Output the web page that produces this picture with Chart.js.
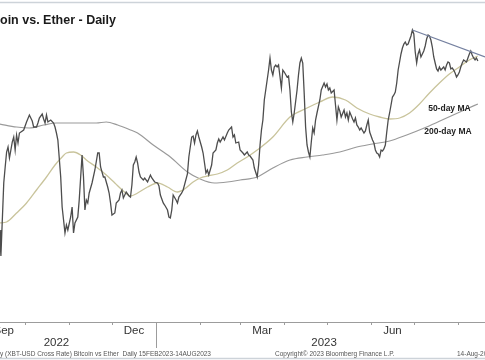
<!DOCTYPE html>
<html>
<head>
<meta charset="utf-8">
<script src="https://cdn.jsdelivr.net/npm/chart.js@4/dist/chart.umd.min.js"></script>
<style>
  html, body { margin: 0; padding: 0; background: #fff; }
  canvas { display: block; }
</style>
</head>
<body>
<canvas id="chart" width="485" height="360"></canvas>
<script>
"use strict";

// x values are days since 1 Sep 2022, y values are the XBT/ETH ratio

const priceDays = [
  12, 13, 15, 16, 17, 18, 19, 21, 22, 23, 24, 25, 26, 29, 31, 33, 35, 36, 38, 39,
  40, 42, 43, 44, 45, 46, 48, 50, 51, 52, 53, 55, 56, 57, 58, 59, 60, 62, 63, 64,
  65, 67, 68, 70, 71, 72, 73, 74, 75, 77, 79, 81, 82, 83, 85, 86, 88, 89, 90, 91,
  93, 94, 96, 97, 98, 99, 101, 103, 104, 105, 106, 107, 108, 109, 110, 111, 113, 114, 116, 118,
  119, 121, 123, 124, 125, 126, 127, 128, 130, 131, 132, 133, 134, 136, 137, 138, 140, 141, 144, 145,
  147, 148, 149, 150, 151, 152, 154, 155, 156, 157, 158, 159, 161, 162, 164, 165, 166, 167, 169, 170,
  172, 173, 175, 176, 177, 178, 180, 181, 183, 184, 186, 187, 188, 190, 191, 193, 194, 195, 196, 197,
  198, 199, 200, 201, 202, 203, 204, 205, 206, 207, 208, 210, 211, 212, 214, 215, 216, 217, 218, 219,
  221, 222, 223, 224, 225, 226, 227, 228, 229, 230, 231, 232, 233, 234, 235, 237, 238, 240, 241, 242,
  243, 244, 245, 247, 248, 249, 250, 251, 252, 254, 255, 256, 257, 258, 260, 261, 262, 263, 264, 265,
  266, 268, 269, 270, 271, 272, 273, 274, 275, 276, 277, 278, 279, 280, 281, 282, 283, 284, 285, 286,
  287, 288, 289, 290, 291, 292, 293, 294, 295, 296, 297, 298, 299, 300, 301, 302, 303, 304, 305, 306,
  307, 308, 310, 311, 312, 313, 314, 315, 316, 317, 318, 319, 320, 321, 322, 324, 325, 326, 327, 328,
  329, 330, 331, 332, 333, 334, 335, 336, 337, 338, 339, 340, 341, 342, 343, 344, 345, 346, 347, 348
];
const priceValues = [
  13.40, 12.88, 14.34, 14.66, 14.96, 15.06, 14.84, 15.16, 15.26, 15.00, 15.30, 15.14, 15.34, 15.40, 15.56, 15.70, 15.58, 15.46, 15.46, 15.54,
  15.64, 15.72, 15.62, 15.54, 15.70, 15.56, 15.60, 15.54, 15.46, 15.34, 15.20, 14.46, 13.86, 13.60, 13.34, 13.50, 13.40, 13.66, 13.86, 13.34,
  13.54, 13.66, 14.00, 14.90, 14.46, 13.80, 14.00, 13.94, 14.14, 14.34, 14.60, 14.94, 14.94, 14.66, 14.46, 14.46, 14.26, 14.14, 13.94, 13.70,
  13.74, 13.94, 14.00, 14.14, 14.20, 14.04, 14.16, 14.08, 14.06, 14.30, 14.70, 14.76, 14.86, 14.74, 14.56, 14.46, 14.40, 14.44, 14.36, 14.50,
  14.44, 14.36, 14.34, 14.28, 14.10, 14.02, 13.94, 13.90, 13.80, 13.66, 13.64, 13.80, 14.10, 14.00, 13.94, 14.06, 14.14, 14.20, 14.52, 14.86,
  15.26, 15.28, 15.14, 15.30, 15.38, 15.26, 15.06, 14.94, 14.74, 14.54, 14.60, 14.50, 14.70, 14.94, 15.00, 15.14, 15.22, 15.16, 15.26, 15.20,
  15.34, 15.40, 15.46, 15.26, 15.30, 15.14, 15.16, 15.00, 14.94, 14.90, 14.96, 14.90, 14.88, 14.80, 14.64, 14.46, 14.70, 15.10, 15.40, 15.60,
  16.00, 16.20, 16.40, 16.60, 16.84, 16.60, 16.50, 16.66, 16.70, 16.66, 16.70, 16.24, 16.60, 16.56, 16.46, 16.48, 16.20, 15.76, 15.56, 15.74,
  16.20, 16.50, 16.74, 16.84, 16.74, 16.14, 15.46, 15.10, 14.96, 14.86, 15.16, 15.44, 15.34, 15.60, 15.74, 16.00, 16.20, 16.34, 16.26, 16.32,
  16.20, 16.24, 16.14, 16.20, 15.90, 15.60, 15.86, 15.78, 15.66, 15.80, 15.66, 15.74, 15.60, 15.76, 15.62, 15.56, 15.64, 15.50, 15.46, 15.40,
  15.44, 15.34, 15.38, 15.50, 15.60, 15.36, 15.28, 15.20, 15.14, 15.00, 14.94, 14.92, 14.86, 15.00, 14.98, 15.02, 15.10, 15.36, 15.60, 15.74,
  15.90, 16.06, 16.10, 16.16, 16.34, 16.60, 16.76, 16.92, 17.04, 17.12, 17.16, 17.10, 17.12, 17.20, 17.28, 17.40, 17.32, 16.96, 16.74, 16.92,
  17.00, 16.86, 16.98, 17.08, 17.22, 17.30, 17.28, 17.20, 17.06, 16.86, 16.74, 16.62, 16.58, 16.66, 16.60, 16.66, 16.60, 16.70, 16.76, 16.74,
  16.62, 16.64, 16.60, 16.54, 16.46, 16.50, 16.56, 16.66, 16.74, 16.80, 16.78, 16.76, 16.84, 16.92, 16.98, 16.90, 16.84, 16.80, 16.84, 16.78
];

const ma50Days = [
  12, 17, 24, 31, 38, 45, 51, 56, 59, 64, 69, 73, 80, 87, 93, 99, 104, 109, 116, 123,
  130, 137, 142, 148, 153, 158, 165, 172, 179, 186, 193, 204, 216, 228, 237, 246, 255, 263, 272, 279,
  286, 293, 300, 307, 314, 321, 328, 335, 342, 348
];
const ma50Values = [
  13.54, 13.56, 13.74, 13.94, 14.20, 14.46, 14.70, 14.86, 14.94, 14.96, 14.90, 14.80, 14.66, 14.50, 14.34, 14.18, 14.08, 14.14, 14.26, 14.34,
  14.26, 14.16, 14.22, 14.36, 14.44, 14.48, 14.52, 14.60, 14.74, 14.86, 15.00, 15.26, 15.66, 15.84, 15.96, 16.06, 16.00, 15.84, 15.72, 15.66,
  15.62, 15.64, 15.74, 15.92, 16.14, 16.34, 16.52, 16.66, 16.80, 16.88
];

const ma200Days = [
  12, 24, 33, 43, 52, 66, 80, 87, 95, 104, 109, 120, 132, 144, 153, 163, 172, 181, 193, 204,
  216, 228, 239, 251, 263, 274, 286, 298, 312, 326, 340, 348
];
const ma200Values = [
  15.52, 15.46, 15.44, 15.50, 15.54, 15.54, 15.54, 15.56, 15.50, 15.40, 15.34, 15.10, 14.86, 14.56, 14.42, 14.34, 14.36, 14.40, 14.46, 14.64,
  14.80, 14.86, 14.90, 14.96, 15.06, 15.12, 15.18, 15.30, 15.46, 15.64, 15.82, 15.92
];

const trendDays = [302, 353];
const trendValues = [17.40, 16.86];

// first day of each month, Sep 2022 .. Sep 2023
const monthStarts = [0, 30, 61, 91, 122, 153, 181, 212, 242, 273, 303, 334, 365];
const monthNames = ['Sep', 'Oct', 'Nov', 'Dec', 'Jan', 'Feb', 'Mar', 'Apr', 'May', 'Jun', 'Jul', 'Aug'];
const labelledMonths = ['Sep', 'Dec', 'Mar', 'Jun'];
const yearLabels = ['2022', '2023'];

const titleText = 'Bitcoin vs. Ether - Daily';
const footerLeft = 'y (XBT-USD Cross Rate) Bitcoin vs Ether  Daily 15FEB2023-14AUG2023';
const footerMid = 'Copyright\u00A9 2023 Bloomberg Finance L.P.';
const footerRight = '14-Aug-2023';

function points(days, values) {
  return days.map((d, i) => ({ x: d, y: values[i] }));
}

const decor = {
  id: 'decor',
  afterDraw(chart) {
    const ctx = chart.ctx;
    const xs = chart.scales.x;
    const ys = chart.scales.y;
    const bottom = chart.chartArea.bottom;
    ctx.save();

    // frame lines
    ctx.strokeStyle = '#cdd3d9';
    ctx.lineWidth = 1.5;
    ctx.beginPath();
    ctx.moveTo(0, 2.5); ctx.lineTo(485, 2.5);
    ctx.moveTo(0, 358.5); ctx.lineTo(485, 358.5);
    ctx.stroke();

    // title
    ctx.fillStyle = '#1a1a1a';
    ctx.font = 'bold 12.5px "Liberation Sans", Arial, sans-serif';
    ctx.textBaseline = 'alphabetic';
    ctx.textAlign = 'left';
    ctx.fillText(titleText, -23.6, 24);

    // MA labels
    ctx.font = 'bold 8.5px "Liberation Sans", Arial, sans-serif';
    ctx.textAlign = 'center';
    ctx.textBaseline = 'middle';
    ctx.fillStyle = '#222';
    ctx.fillText('50-day MA', xs.getPixelForValue(328), ys.getPixelForValue(15.82));
    ctx.fillText('200-day MA', xs.getPixelForValue(327), ys.getPixelForValue(15.36));

    // x axis
    ctx.strokeStyle = '#9c9c9c';
    ctx.lineWidth = 1;
    ctx.beginPath();
    ctx.moveTo(0, bottom + 0.5); ctx.lineTo(485, bottom + 0.5);
    monthStarts.forEach(d => {
      const px = Math.round(xs.getPixelForValue(d)) + 0.5;
      ctx.moveTo(px, bottom); ctx.lineTo(px, bottom + 3);
    });
    const jan = Math.round(xs.getPixelForValue(monthStarts[4])) + 0.5;
    ctx.moveTo(jan, bottom); ctx.lineTo(jan, bottom + 26);
    ctx.stroke();

    ctx.fillStyle = '#333';
    ctx.font = '11.5px "Liberation Sans", Arial, sans-serif';
    ctx.textBaseline = 'middle';
    monthNames.forEach((m, i) => {
      if (!labelledMonths.includes(m)) return;
      const mid = (monthStarts[i] + monthStarts[i + 1]) / 2;
      ctx.fillText(m, xs.getPixelForValue(mid), bottom + 8.5);
    });
    ctx.fillText(yearLabels[0], xs.getPixelForValue(52), bottom + 21);
    ctx.fillText(yearLabels[1], xs.getPixelForValue(240), bottom + 21);

    // footer
    ctx.fillStyle = '#555';
    ctx.font = '6.5px "Liberation Sans", Arial, sans-serif';
    ctx.textAlign = 'left';
    ctx.textBaseline = 'alphabetic';
    ctx.fillText(footerLeft, 0, 356);
    ctx.fillText(footerMid, 275, 356);
    ctx.fillText(footerRight, 457, 356);

    ctx.restore();
  }
};

new Chart(document.getElementById('chart'), {
  type: 'line',
  data: {
    datasets: [
      {
        label: 'XBT/ETH',
        data: points(priceDays, priceValues),
        borderColor: '#4d4d4d',
        borderWidth: 1.3,
        pointRadius: 0,
        tension: 0,
        order: 1,
      },
      {
        label: '50-day MA',
        data: points(ma50Days, ma50Values),
        borderColor: '#c9c49c',
        borderWidth: 1.3,
        pointRadius: 0,
        cubicInterpolationMode: 'monotone',
        order: 2,
      },
      {
        label: '200-day MA',
        data: points(ma200Days, ma200Values),
        borderColor: '#9a9a9a',
        borderWidth: 1.2,
        pointRadius: 0,
        cubicInterpolationMode: 'monotone',
        order: 3,
      },
      {
        label: 'Trend',
        data: points(trendDays, trendValues),
        borderColor: '#7581a0',
        borderWidth: 1.3,
        pointRadius: 0,
        order: 0,
      },
    ],
  },
  options: {
    responsive: false,
    animation: false,
    layout: { padding: { top: 0, right: 0, bottom: 38, left: 0 } },
    scales: {
      x: { type: 'linear', min: 12.36, max: 353, display: false },
      y: { type: 'linear', min: 11.56, max: 18, display: false },
    },
    plugins: {
      legend: { display: false },
      tooltip: { enabled: false },
    },
  },
  plugins: [decor],
});
</script>
</body>
</html>
